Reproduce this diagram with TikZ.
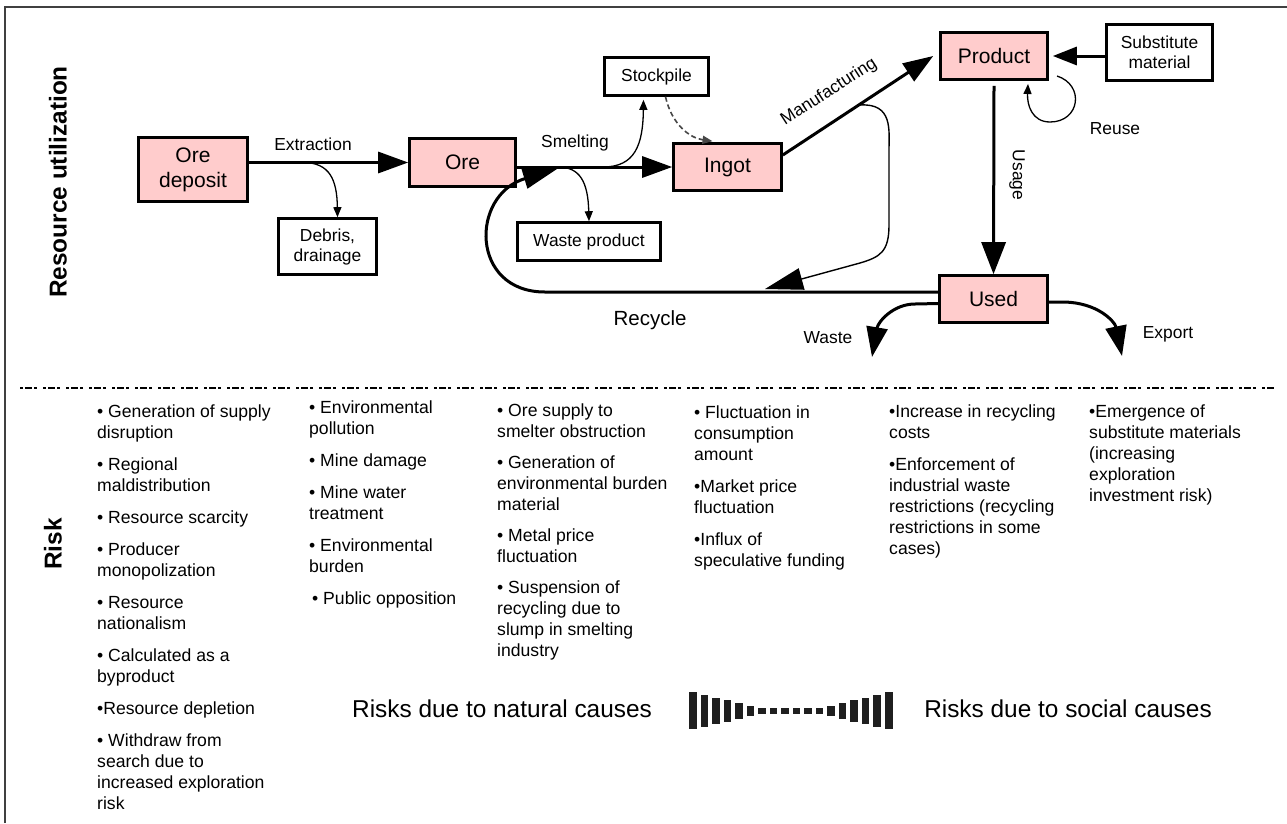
\documentclass[tikz,border=0pt]{standalone}
\usepackage{fontspec}
\setmainfont{Liberation Sans}
\usetikzlibrary{arrows.meta}
\definecolor{boxpink}{RGB}{255,204,204}
\begin{document}
\begin{tikzpicture}[x=1pt,y=-1pt,
  stage/.style={draw, line width=2.6pt, fill=boxpink, inner sep=0pt,
    font=\fontsize{21}{25}\selectfont, align=center},
  sidebox/.style={draw, line width=2.6pt, fill=white, inner sep=0pt,
    font=\fontsize{17.4}{20}\selectfont, align=center},
  lbl/.style={inner sep=0pt, font=\fontsize{17.4}{20}\selectfont},
  flow/.style={line width=3pt, -{Triangle[length=30pt,width=21pt]}},
  branch/.style={line width=1.3pt, -{Triangle[length=10pt,width=8pt]}},
  riskcol/.style={anchor=north west, inner sep=0pt, align=left,
    font=\fontsize{17.6}{21}\selectfont},
  heading/.style={inner sep=0pt, rotate=90,
    font=\bfseries\fontsize{24.4}{28}\selectfont},
  causes/.style={inner sep=0pt, font=\fontsize{24.4}{28}\selectfont},
]
\useasboundingbox (0,0) rectangle (1287,823);

% outer frame (top and left edges)
\draw[line width=1.3pt, black!75] (5,823) -- (5,7) -- (1287,7);

% section headings
\node[heading] (hres) at (58,182) {Resource utilization};
\node[heading] (hrisk) at (53,544) {Risk};

% material flow stages
\node[stage, minimum width=109pt, minimum height=64pt] (deposit) at (193,169.5) {Ore\\deposit};
\node[stage, minimum width=106pt, minimum height=48pt] (ore) at (462.5,162.5) {Ore};
\node[stage, minimum width=108pt, minimum height=47pt] (ingot) at (727.5,167) {Ingot};
\node[stage, minimum width=107pt, minimum height=47pt] (product) at (994,56) {Product};
\node[stage, minimum width=108pt, minimum height=47pt] (used) at (993.5,299) {Used};

% side outputs and inputs
\node[sidebox, minimum width=104pt, minimum height=38pt] (stock) at (656.5,76.5) {Stockpile};
\node[sidebox, minimum width=98pt, minimum height=56pt] (debris) at (327.5,246.5) {Debris,\\drainage};
\node[sidebox, minimum width=143pt, minimum height=38pt] (wasteprod) at (589,241.5) {Waste product};
\node[sidebox, minimum width=106pt, minimum height=56pt] (subst) at (1159.5,52.5) {Substitute\\material};

% tap points and free ends
\coordinate (exsplit) at (303,162.5);
\coordinate (smsplit) at (558,167);
\coordinate (stsplit) at (603,167);
\coordinate (recyclein) at (557,169);
\coordinate (mfgtap) at (860,105);
\coordinate (recyclejoin) at (765,289);
\coordinate (wastetip) at (872,357);
\coordinate (exporttip) at (1122,356);
\coordinate (reusestart) at (1057,76);
\coordinate (reuseend) at (1028,84);

% main flow
\draw[flow] (deposit.east |- ore.west) -- (ore.west);
\draw[flow] (ore.east |- ingot.west) -- (ingot.west);
\draw[flow] ([yshift=12pt]ingot.east) -- ([xshift=-6pt]product.west);
\draw[flow, -{Triangle[length=32pt,width=24pt]}] ([yshift=-5pt]product.south) -- (used.north);
\draw[line width=3pt, -{Triangle[length=24pt,width=18pt]}] (subst.west |- product.east) -- ([xshift=4pt]product.east);

% recycle loop back to smelting
\draw[flow, -{Triangle[length=34pt,width=20pt]}] ([yshift=7pt]used.west) -- (545,292)
  .. controls (470,292) and (470,195) .. (recyclein);

% end-of-life outputs
\draw[flow] ([yshift=-4.5pt]used.west) -- (915,304) .. controls (893,304) and (878,322) .. (wastetip);
\draw[flow] ([yshift=-3pt]used.east) -- (1062,302) .. controls (1098,302) and (1115,322) .. (exporttip);

% branches
\draw[branch] (exsplit) .. controls (330,162.5) and (337,180) .. ([xshift=10pt]debris.north);
\draw[branch] (smsplit) .. controls (580,167) and (588,182) .. (wasteprod.north);
\draw[branch, shorten >=3pt] (stsplit) .. controls (635,167) and (643,145) .. ([xshift=-13pt]stock.south);
\draw[branch, line width=1.6pt, dash pattern=on 5pt off 3pt, black!72] ([xshift=9pt]stock.south)
  .. controls (672,125) and (690,138) .. ([xshift=-15pt,yshift=1pt]ingot.north);
\draw[branch] (reusestart) .. controls (1085,85) and (1080,122) .. (1050,122)
  .. controls (1032,122) and (1027,105) .. (reuseend);
\draw[line width=1.4pt, -{Triangle[length=38pt,width=22pt]}] (mfgtap)
  .. controls (893,103) and (889,130) .. (889,150) -- (889,225)
  .. controls (889,252) and (880,257) .. (860,263) -- (recyclejoin);

% flow labels
\node[lbl] (extr) at (313,144) {Extraction};
\node[lbl] (smelt) at (575,143) {Smelting};
\node[lbl, rotate=33] (manlbl) at (829,92) {Manufacturing};
\node[lbl, rotate=-90] (usagelbl) at (1017,175) {Usage};
\node[lbl] (reuselbl) at (1115,129) {Reuse};
\node[lbl, font=\fontsize{20.5}{24}\selectfont] (recy) at (650,320) {Recycle};
\node[lbl] (wastelbl) at (828,338) {Waste};
\node[lbl] (exportlbl) at (1168,334) {Export};

% separator between the two sections
\draw[line width=2pt, dash pattern=on 3pt off 2pt on 7pt off 2pt on 3pt off 6pt] (20,388) -- (1275,388);

% risk columns
\node[riskcol] (r1) at (97,405) {• Generation of supply\\disruption\\[11pt]
  • Regional\\maldistribution\\[11pt]
  • Resource scarcity\\[11pt]
  • Producer\\monopolization\\[11pt]
  • Resource\\nationalism\\[11pt]
  • Calculated as a\\byproduct\\[11pt]
  •Resource depletion\\[11pt]
  • Withdraw from\\search due to\\increased exploration\\risk};
\node[riskcol] (r2) at (309,401) {• Environmental\\pollution\\[11pt]
  • Mine damage\\[11pt]
  • Mine water\\treatment\\[11pt]
  • Environmental\\burden\\[11pt]
  \hspace{3pt}• Public opposition};
\node[riskcol] (r3) at (497,404) {• Ore supply to\\smelter obstruction\\[10pt]
  • Generation of\\environmental burden\\material\\[10pt]
  • Metal price\\fluctuation\\[10pt]
  • Suspension of\\recycling due to\\slump in smelting\\industry};
\node[riskcol] (r4) at (694,406) {• Fluctuation in\\consumption\\amount\\[11pt]
  •Market price\\fluctuation\\[11pt]
  •Influx of\\speculative funding};
\node[riskcol] (r5) at (889,405) {•Increase in recycling\\costs\\[11pt]
  •Enforcement of\\industrial waste\\restrictions (recycling\\restrictions in some\\cases)};
\node[riskcol] (r6) at (1089,405) {•Emergence of\\substitute materials\\(increasing\\exploration\\investment risk)};

% natural-to-social scale
\node[causes] (natural) at (502,709) {Risks due to natural causes};
\node[causes] (social) at (1068,709) {Risks due to social causes};
\foreach \h [count=\i from 0] in {37,32,26,22,16,10,6,6,6,6,6,6,10,16,22,26,32,37}
  \fill[black!88] ({689+11.53*\i},{710.5-\h/2}) rectangle +(7.5,\h);

\end{tikzpicture}
\end{document}
